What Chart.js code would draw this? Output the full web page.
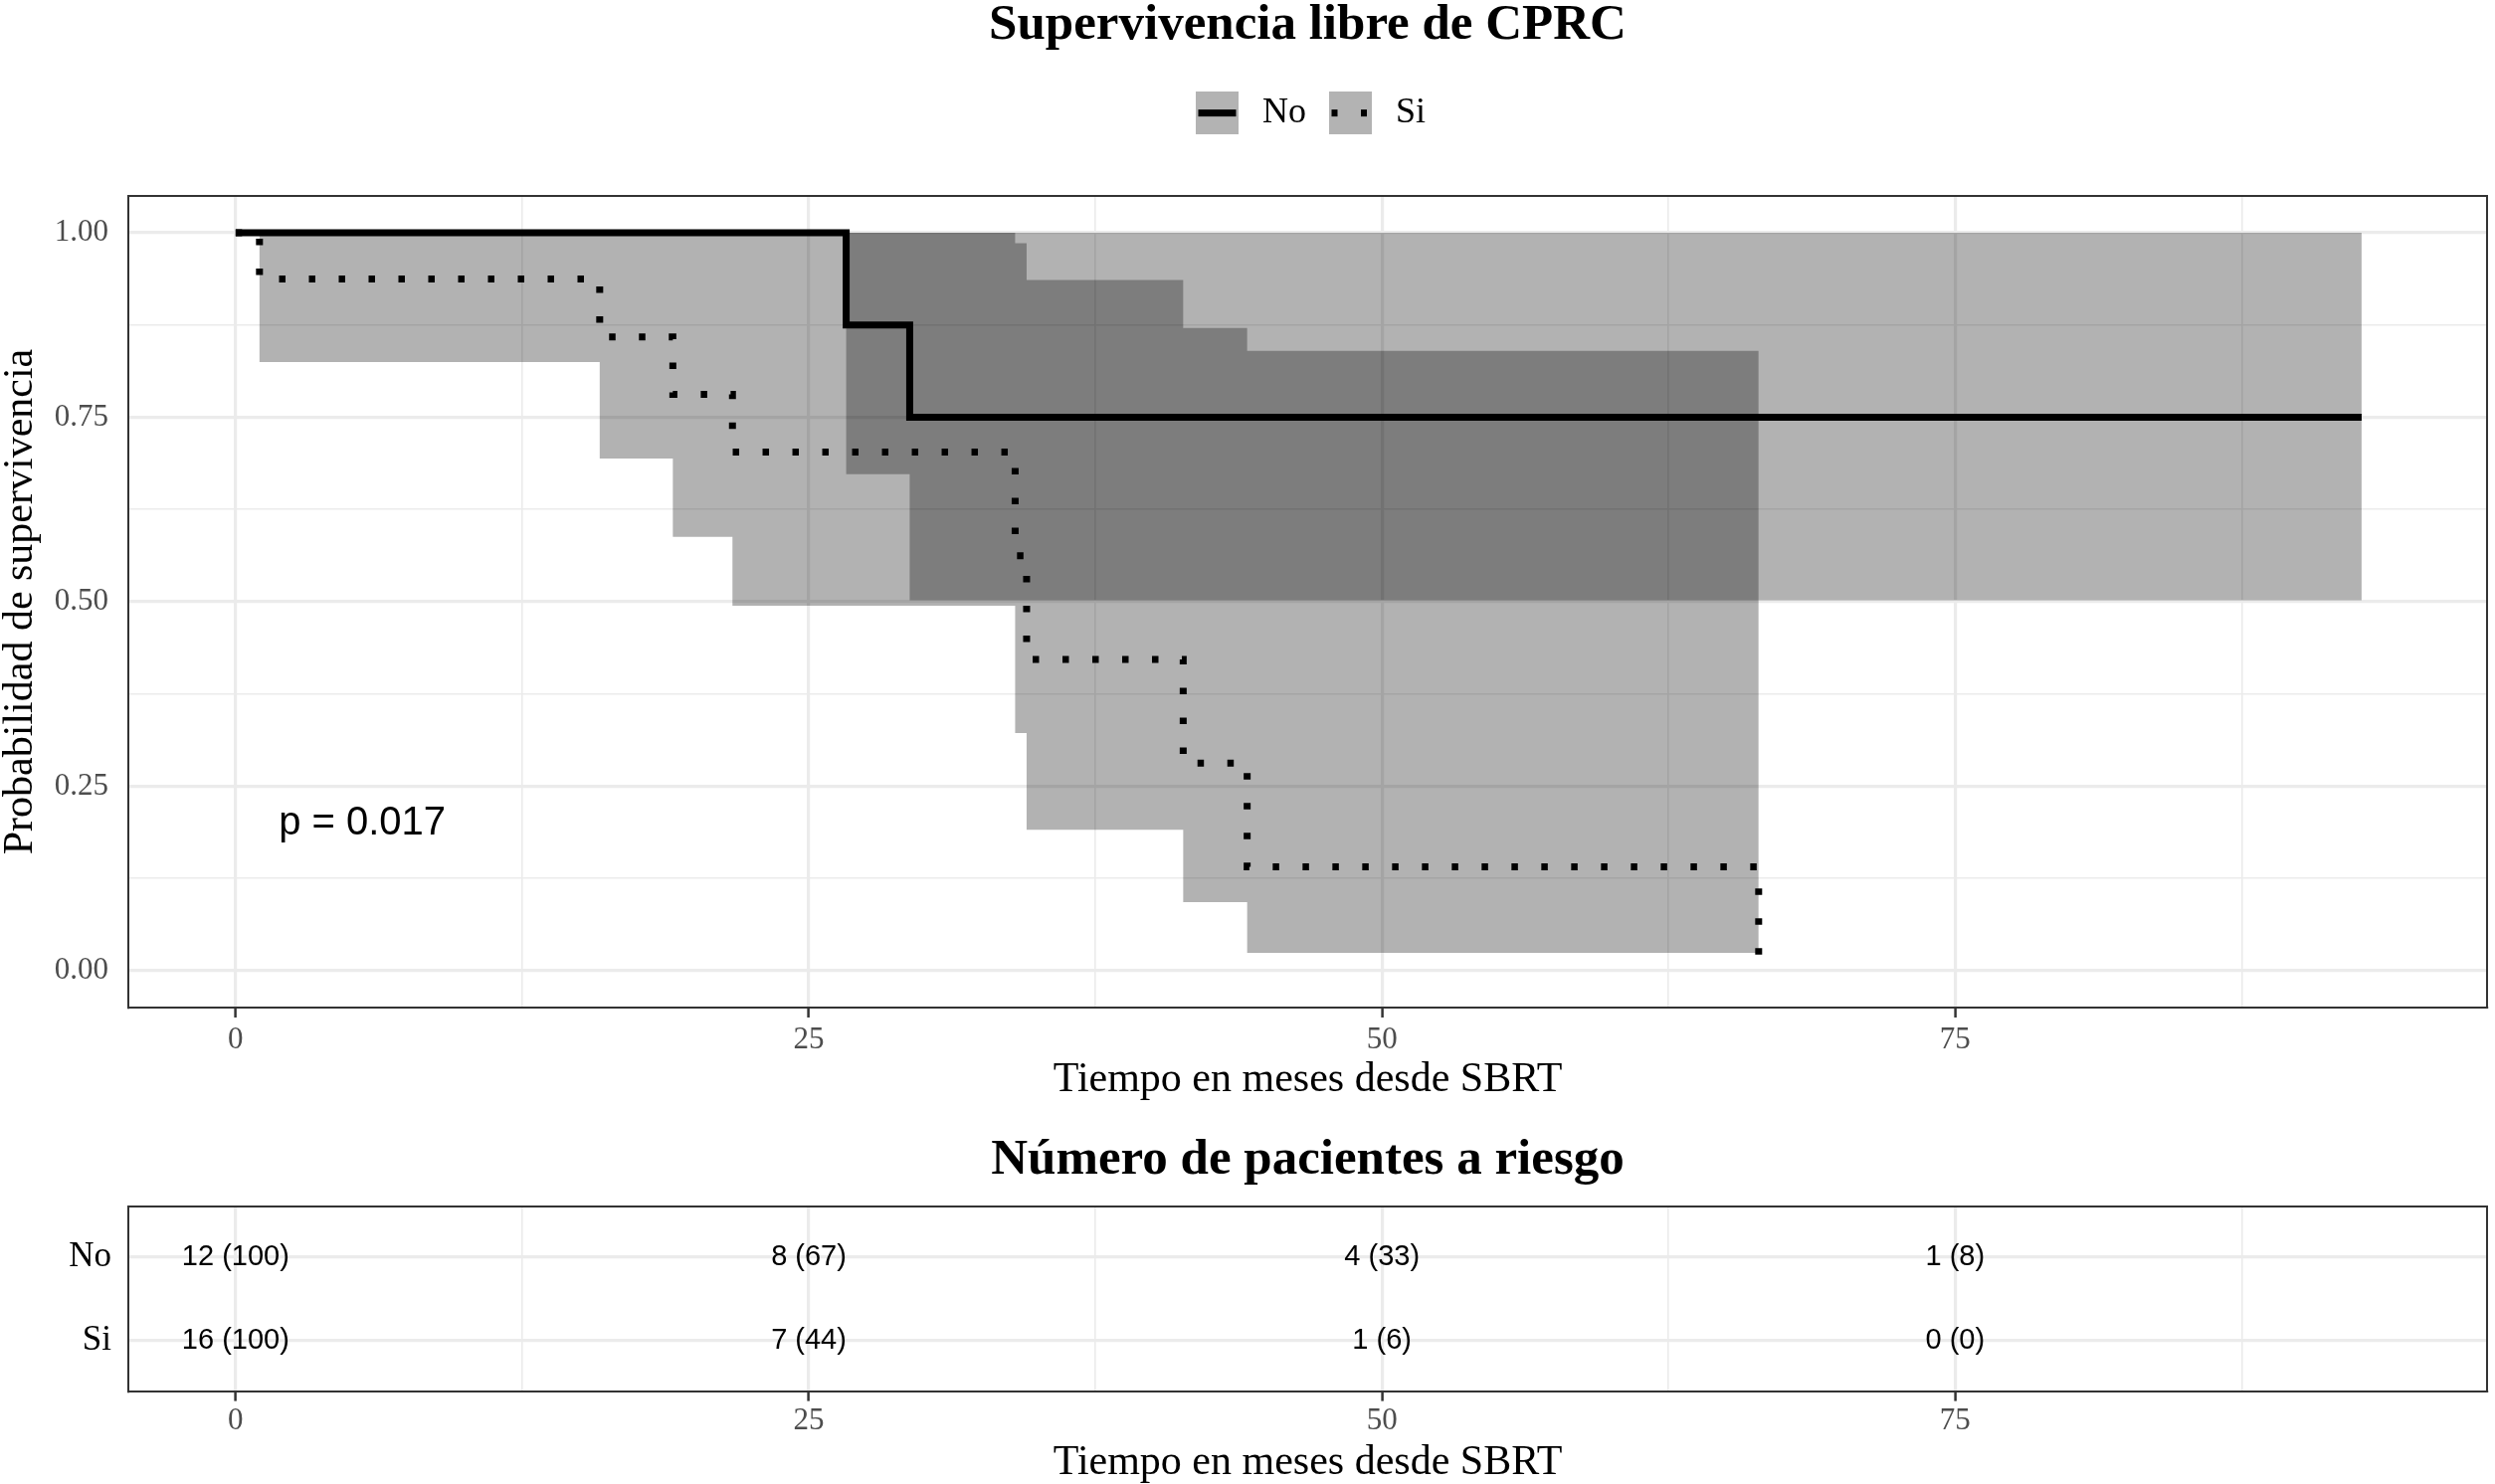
<!DOCTYPE html>
<html>
<head>
<meta charset="utf-8">
<script src="https://cdn.jsdelivr.net/npm/chart.js@4.4.1/dist/chart.umd.min.js"></script>
<style>
  html, body { margin: 0; padding: 0; background: #fff; }
  #wrap { position: relative; width: 2508px; height: 1492px; }
  canvas { position: absolute; left: 0; }
  #km { top: 0; }
  #risk { top: 1120px; }
</style>
</head>
<body>
<div id="wrap">
  <canvas id="km" width="2508" height="1120"></canvas>
  <canvas id="risk" width="2508" height="372"></canvas>
</div>
<script>
// Kaplan-Meier data
const noTime  = [0, 26.63, 29.40, 92.73];
const noSurv  = [1, 0.875, 0.75, 0.75];
const noUpper = [1, 1, 1, 1];
const noLower = [1, 0.673, 0.502, 0.502];

const siTime  = [0, 1.04, 15.88, 19.07, 21.67, 34.0, 34.5, 41.33, 44.12, 66.43];
const siSurv  = [1, 0.9375, 0.859, 0.781, 0.703, 0.5625, 0.4219, 0.2813, 0.1406, 0];
const siUpper = [1, 1, 1, 1, 1, 0.986, 0.936, 0.871, 0.840, 0.840];
const siLower = [1, 0.825, 0.694, 0.588, 0.4945, 0.322, 0.191, 0.093, 0.024, 0.024];

const xTicks = [0, 25, 50, 75];
const yTicks = [0, 0.25, 0.5, 0.75, 1];
const pValue = '0.017';

// risk table
const riskGroups = ['No', 'Si'];
const riskTimes = [0, 25, 50, 75];
const riskNo = [12, 8, 4, 1];
const riskNoPct = [100, 67, 33, 8];
const riskSi = [16, 7, 1, 0];
const riskSiPct = [100, 44, 6, 0];

// layout constants
const xMin = -4.68, xMax = 98.2;
const pvalX = 1.88, pvalY = 0.2;
const serif = 'Liberation Serif';
const sans = 'Liberation Sans';
const gridColor = '#ebebeb';
const lineW = 7;
const dots = [6.5, 23.5];
const frame = { display: true, color: '#333333', width: 2 };

const pts = (t, v) => t.map((x, i) => ({ x, y: v[i] }));
const withMinor = (major, step) => {
  const out = [];
  major.forEach(v => { out.push(v); out.push(v + step / 2); });
  return out;
};

function xScale(extra) {
  const all = withMinor(xTicks, 25);
  return Object.assign({
    type: 'linear', min: xMin, max: xMax,
    afterBuildTicks: s => { s.ticks = all.filter(v => v <= xMax).map(v => ({ value: v })); },
    grid: {
      color: gridColor,
      lineWidth: c => (c.tick && xTicks.includes(c.tick.value)) ? 3.2 : 1.6,
      drawTicks: true, tickLength: 10, tickWidth: 2.5,
      tickColor: c => (c.tick && xTicks.includes(c.tick.value)) ? '#333333' : 'rgba(0,0,0,0)'
    },
    border: frame
  }, extra);
}

const topFrame = h => ({
  type: 'linear', position: 'top', min: xMin, max: xMax,
  grid: { display: false, drawTicks: false }, ticks: { display: false },
  border: frame, afterFit: s => { s.height = h; }
});
const rightFrame = (lo, hi) => ({
  type: 'linear', position: 'right', min: lo, max: hi,
  grid: { display: false, drawTicks: false }, ticks: { display: false },
  border: frame, afterFit: s => { s.width = 0; }
});

// legend keys
function keyImg(dotted) {
  const c = document.createElement('canvas');
  c.width = 43; c.height = 43;
  const g = c.getContext('2d');
  g.fillStyle = '#b3b3b3';
  g.fillRect(0, 0, 43, 43);
  g.strokeStyle = '#000';
  g.lineWidth = lineW;
  if (dotted) g.setLineDash([6, 23.5]);
  g.beginPath();
  g.moveTo(2.5, 21.5);
  g.lineTo(40.5, 21.5);
  g.stroke();
  return c;
}

const pvalPlugin = {
  id: 'pval',
  afterDatasetsDraw(chart) {
    const { ctx, scales: { x, y } } = chart;
    ctx.save();
    ctx.font = '40px "' + sans + '"';
    ctx.fillStyle = '#000';
    ctx.textAlign = 'left';
    ctx.textBaseline = 'middle';
    ctx.fillText('p = ' + pValue, x.getPixelForValue(pvalX), y.getPixelForValue(pvalY));
    ctx.restore();
  }
};

const band = { borderWidth: 0, borderColor: 'rgba(0,0,0,0)', pointRadius: 0, stepped: 'before' };
const fillCol = 'rgba(0,0,0,0.3)';

new Chart(document.getElementById('km'), {
  type: 'line',
  data: {
    datasets: [
      { label: 'No', data: pts(noTime, noSurv), borderColor: '#000', borderWidth: lineW,
        stepped: 'before', pointRadius: 0, fill: false, borderCapStyle: 'butt' },
      { label: 'Si', data: pts(siTime, siSurv), borderColor: '#000', borderWidth: lineW,
        borderDash: dots, stepped: 'before', pointRadius: 0, fill: false, borderCapStyle: 'butt' },
      Object.assign({ label: 'No sup', data: pts(noTime, noUpper), fill: '+1', backgroundColor: fillCol }, band),
      Object.assign({ label: 'No inf', data: pts(noTime, noLower), fill: false }, band),
      Object.assign({ label: 'Si sup', data: pts(siTime, siUpper), fill: '+1', backgroundColor: fillCol }, band),
      Object.assign({ label: 'Si inf', data: pts(siTime, siLower), fill: false }, band)
    ]
  },
  options: {
    responsive: false,
    animation: false,
    devicePixelRatio: 1,
    layout: { padding: { left: 0, right: 8, top: 0, bottom: 0 } },
    plugins: {
      tooltip: { enabled: false },
      title: {
        display: true, text: 'Supervivencia libre de CPRC', fullSize: false,
        font: { family: serif, size: 51, weight: 'bold', lineHeight: 1 }, color: '#000',
        padding: { top: 0, bottom: 27.6 }
      },
      legend: {
        position: 'top', fullSize: false, onClick: () => {},
        labels: {
          usePointStyle: true, pointStyleWidth: 55, boxHeight: 36, padding: 17,
          font: { family: serif, size: 36 }, color: '#000',
          generateLabels: () => [
            { text: riskGroups[0], pointStyle: keyImg(false), fillStyle: 'rgba(0,0,0,0)', strokeStyle: 'rgba(0,0,0,0)', lineWidth: 0, fontColor: '#000', hidden: false, datasetIndex: 0 },
            { text: riskGroups[1], pointStyle: keyImg(true), fillStyle: 'rgba(0,0,0,0)', strokeStyle: 'rgba(0,0,0,0)', lineWidth: 0, fontColor: '#000', hidden: false, datasetIndex: 1 }
          ]
        }
      }
    },
    scales: {
      x: xScale({
        afterFit: s => { s.height = 107; },
        ticks: {
          autoSkip: false, maxRotation: 0, padding: 4,
          font: { family: serif, size: 31 }, color: '#4d4d4d',
          callback: v => xTicks.includes(v) ? String(v) : ''
        },
        title: { display: true, text: 'Tiempo en meses desde SBRT',
          font: { family: serif, size: 42, lineHeight: 1 }, color: '#000', padding: { top: 0, bottom: 13.3 } }
      }),
      x2: topFrame(55.4),
      y: {
        type: 'linear', min: -0.05, max: 1.05,
        afterBuildTicks: s => { s.ticks = withMinor(yTicks, 0.25).filter(v => v <= 1).map(v => ({ value: v })); },
        afterFit: s => { s.width = 129; },
        ticks: {
          autoSkip: false, padding: 20,
          font: { family: serif, size: 31 }, color: '#4d4d4d',
          callback: v => yTicks.includes(v) ? v.toFixed(2) : ''
        },
        grid: {
          color: gridColor, drawTicks: false,
          lineWidth: c => (c.tick && yTicks.includes(c.tick.value)) ? 3.2 : 1.6
        },
        border: frame,
        title: { display: true, text: 'Probabilidad de supervivencia',
          font: { family: serif, size: 42, lineHeight: 1 }, color: '#000', padding: { top: 0, bottom: 0 } }
      },
      y2: rightFrame(-0.05, 1.05)
    }
  },
  plugins: [pvalPlugin]
});

// risk table
const riskLabelPlugin = {
  id: 'riskLabels',
  afterDatasetsDraw(chart) {
    const { ctx } = chart;
    ctx.save();
    ctx.font = '29px "' + sans + '"';
    ctx.fillStyle = '#000';
    ctx.textAlign = 'center';
    ctx.textBaseline = 'middle';
    chart.data.datasets.forEach((ds, i) => {
      chart.getDatasetMeta(i).data.forEach((pt, j) => ctx.fillText(ds.texts[j], pt.x, pt.y));
    });
    ctx.restore();
  }
};

const rowOf = g => riskGroups.length - riskGroups.indexOf(g);

new Chart(document.getElementById('risk'), {
  type: 'scatter',
  data: {
    datasets: [
      { label: 'No', data: riskTimes.map(t => ({ x: t, y: rowOf('No') })), pointRadius: 0,
        texts: riskNo.map((n, i) => n + ' (' + riskNoPct[i] + ')') },
      { label: 'Si', data: riskTimes.map(t => ({ x: t, y: rowOf('Si') })), pointRadius: 0,
        texts: riskSi.map((n, i) => n + ' (' + riskSiPct[i] + ')') }
    ]
  },
  options: {
    responsive: false,
    animation: false,
    devicePixelRatio: 1,
    layout: { padding: { left: 0, right: 8, top: 0, bottom: 0 } },
    plugins: {
      legend: { display: false },
      tooltip: { enabled: false },
      title: {
        display: true, text: 'Número de pacientes a riesgo', fullSize: false,
        font: { family: serif, size: 51, weight: 'bold', lineHeight: 1 }, color: '#000',
        padding: { top: 21.5, bottom: 0 }
      }
    },
    scales: {
      x: xScale({
        afterFit: s => { s.height = 93.4; },
        ticks: {
          autoSkip: false, maxRotation: 0, padding: 2,
          font: { family: serif, size: 31 }, color: '#4d4d4d',
          callback: v => xTicks.includes(v) ? String(v) : ''
        },
        title: { display: true, text: 'Tiempo en meses desde SBRT',
          font: { family: serif, size: 42, lineHeight: 1 }, color: '#000', padding: { top: 0, bottom: 0 } }
      }),
      x2: topFrame(20.5),
      y: {
        type: 'linear', min: 0.4, max: 2.6,
        afterBuildTicks: s => { s.ticks = riskGroups.map(g => ({ value: rowOf(g) })); },
        afterFit: s => { s.width = 129; },
        ticks: {
          autoSkip: false, padding: 17,
          font: { family: serif, size: 35 }, color: '#000',
          callback: v => riskGroups[riskGroups.length - v]
        },
        grid: { color: gridColor, lineWidth: 3.2, drawTicks: false },
        border: frame
      },
      y2: rightFrame(0.4, 2.6)
    }
  },
  plugins: [riskLabelPlugin]
});
</script>
</body>
</html>
